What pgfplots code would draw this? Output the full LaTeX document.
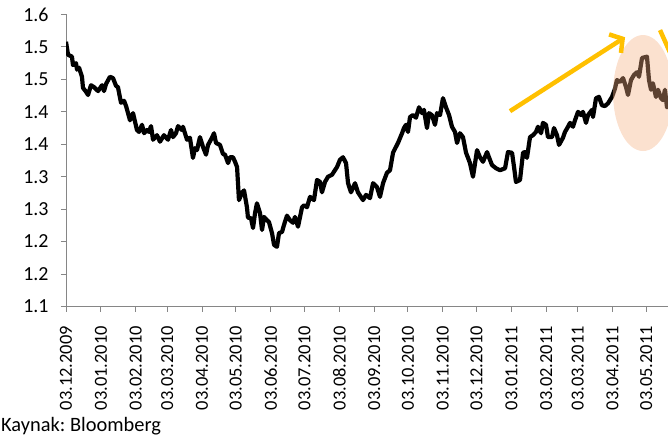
\documentclass[border=0pt]{standalone}
\usepackage{pgfplots}
\pgfplotsset{compat=1.18}
\usepackage{fontspec}
\setmainfont{Carlito}
\usetikzlibrary{arrows.meta}
\definecolor{axgray}{RGB}{134,134,134}
\definecolor{gold}{RGB}{255,192,0}
\definecolor{peach}{RGB}{245,175,130}

\begin{document}
\frenchspacing
\begin{tikzpicture}
\begin{axis}[
    name=ax,
    scale only axis,
    width=602bp, height=292bp,
    xmin=0, xmax=535.3,
    ymin=1.1, ymax=1.55,
    axis lines*=left,
    axis line style={draw=axgray, line width=1bp},
    tick style={draw=axgray, line width=1bp},
    tick align=outside,
    major tick length=5bp,
    font=\fontsize{18.5}{22}\selectfont,
    xtick={0,31,62,90,121,151,182,212,243,274,304,335,365,396,427,455,486,516},
    xticklabels={03.12.2009,03.01.2010,03.02.2010,03.03.2010,03.04.2010,03.05.2010,
      03.06.2010,03.07.2010,03.08.2010,03.09.2010,03.10.2010,03.11.2010,03.12.2010,
      03.01.2011,03.02.2011,03.03.2011,03.04.2011,03.05.2011},
    xticklabel style={rotate=90, anchor=east},
    xticklabel shift=11bp,
    ytick={1.1,1.15,1.2,1.25,1.3,1.35,1.4,1.45,1.5,1.55},
    yticklabels={1.1,1.2,1.2,1.3,1.3,1.4,1.4,1.5,1.5,1.6},
    yticklabel style={anchor=east, font=\fontsize{20}{24}\selectfont},
    yticklabel shift=9bp,
]
% EUR/USD, days counted from 03.12.2009
\addplot[black, line width=4.2bp, line join=round, mark=none] coordinates {
(0,1.508) (1.8,1.488) (5.3,1.485) (6.2,1.472) (8.9,1.475) (9.8,1.465)
(11.6,1.468) (14.2,1.454) (15.1,1.437) (17.8,1.431) (19.6,1.426) (22.2,1.441)
(24.9,1.438) (28.5,1.432) (32.0,1.441) (33.8,1.432) (35.6,1.443) (39.1,1.454)
(41.8,1.452) (44.5,1.440) (46.2,1.438) (48.9,1.414) (51.6,1.417) (53.4,1.409)
(56.9,1.387) (59.6,1.398) (63.1,1.372) (64.9,1.369) (67.6,1.380) (69.4,1.367)
(72.0,1.372) (73.8,1.369) (75.6,1.378) (77.4,1.357) (80.9,1.364) (83.6,1.354)
(87.1,1.364) (90.7,1.357) (93.4,1.372) (95.1,1.361) (97.8,1.367) (99.6,1.378)
(103.1,1.372) (104.0,1.377) (107.6,1.357) (110.2,1.360) (112.9,1.329) (114.7,1.344)
(116.5,1.341) (119.1,1.361) (121.8,1.346) (124.5,1.334) (126.3,1.349) (129.8,1.360)
(131.6,1.367) (133.4,1.352) (136.9,1.349) (139.6,1.335) (141.4,1.334) (144.1,1.321)
(145.8,1.330) (148.5,1.330) (150.3,1.323) (152.1,1.315) (153.8,1.264) (156.5,1.275)
(158.3,1.279) (160.9,1.253) (161.8,1.237) (164.5,1.236) (166.3,1.221) (168.1,1.244)
(169.8,1.259) (172.5,1.244) (174.3,1.218) (176.1,1.238) (178.7,1.233) (180.5,1.230)
(183.2,1.213) (185.0,1.195) (187.6,1.192) (189.4,1.213) (192.1,1.215) (193.9,1.226)
(196.5,1.240) (199.2,1.233) (201.9,1.229) (203.6,1.238) (206.3,1.223) (209.9,1.253)
(211.6,1.256) (214.3,1.253) (217.0,1.269) (220.5,1.264) (223.2,1.295) (225.9,1.292)
(227.6,1.276) (230.3,1.292) (233.0,1.300) (236.5,1.303) (241.0,1.315) (243.6,1.326)
(246.3,1.330) (249.0,1.321) (250.8,1.290) (253.4,1.276) (257.0,1.290) (259.6,1.276)
(264.1,1.264) (266.8,1.272) (270.3,1.267) (273.0,1.290) (276.5,1.284) (279.2,1.269)
(281.9,1.290) (285.4,1.306) (288.1,1.310) (290.8,1.337) (293.4,1.346) (295.2,1.352)
(298.8,1.367) (300.5,1.375) (302.3,1.380) (304.1,1.369) (305.9,1.392) (308.6,1.395)
(311.2,1.391) (313.9,1.407) (316.6,1.398) (318.3,1.403) (321.0,1.375) (322.8,1.398)
(325.4,1.395) (328.1,1.380) (329.9,1.398) (332.6,1.395) (335.2,1.421) (337.9,1.407)
(340.6,1.395) (343.2,1.377) (345.9,1.369) (347.7,1.352) (350.3,1.367) (353.0,1.361)
(355.7,1.337) (357.5,1.329) (359.2,1.321) (361.9,1.300) (365.5,1.341) (368.1,1.330)
(370.8,1.323) (374.4,1.338) (376.1,1.330) (378.8,1.318) (382.4,1.313) (385.9,1.310)
(390.4,1.313) (393.0,1.338) (396.6,1.337) (398.4,1.315) (400.1,1.292) (403.7,1.295)
(406.4,1.337) (408.1,1.338) (409.9,1.329) (412.6,1.361) (415.2,1.364) (417.9,1.369)
(419.7,1.377) (422.4,1.367) (424.1,1.383) (426.8,1.380) (428.6,1.361) (432.2,1.361)
(433.9,1.375) (436.6,1.364) (438.4,1.349) (441.9,1.360) (443.7,1.369) (446.4,1.377)
(448.2,1.383) (450.8,1.377) (452.6,1.387) (455.3,1.400) (457.9,1.395) (459.7,1.400)
(462.4,1.383) (464.2,1.395) (467.7,1.403) (468.6,1.392) (471.3,1.421) (473.9,1.423)
(476.6,1.410) (479.3,1.409) (481.9,1.413) (485.5,1.423) (488.2,1.436) (489.9,1.449)
(492.6,1.446) (495.3,1.452) (498.0,1.438) (499.7,1.426) (502.4,1.449) (505.1,1.457)
(507.7,1.461) (509.5,1.454) (512.2,1.483) (516.6,1.485) (518.4,1.449) (520.2,1.434)
(521.9,1.444) (524.6,1.423) (526.4,1.434) (529.1,1.421) (530.8,1.418) (532.6,1.434)
(534.4,1.407) (537.0,1.410)
};
% highlight
\fill[peach, fill opacity=0.38] (axis cs:513.1,1.429) ellipse [x radius=30bp, y radius=58bp];
\draw[gold, line width=4.5bp, -{Straight Barb[length=9bp,width=22bp]}]
    (axis cs:394.8,1.401) -- (axis cs:497.1,1.515);
\draw[gold, line width=4.5bp] (axis cs:528.2,1.526) -- (axis cs:546,1.457);
\end{axis}
\node[anchor=base west, inner sep=0pt, font=\fontsize{20.5}{24}\selectfont]
    at ([xshift=-65bp,yshift=-125.2bp]ax.south west) {Kaynak: Bloomberg};
\pgfresetboundingbox
\path[use as bounding box] ([xshift=-66bp,yshift=-129.5bp]ax.south west)
    rectangle ([yshift=14.5bp]ax.north east);
\end{tikzpicture}
\end{document}
